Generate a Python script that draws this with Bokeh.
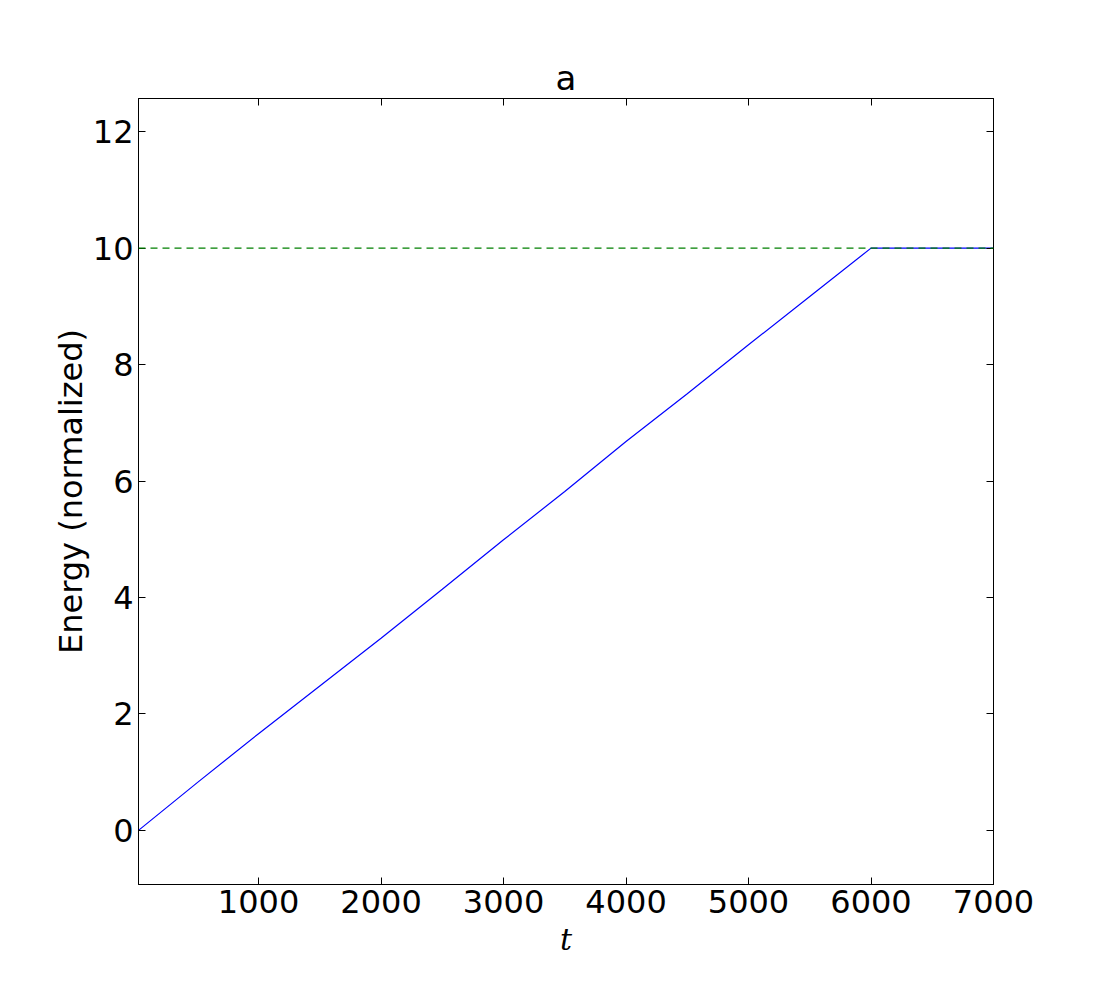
from bokeh.plotting import figure
from bokeh.models import Range1d, LinearAxis, Span, FixedTicker
from bokeh.embed import file_html
from bokeh.resources import INLINE

# Data
t_values = [20, 500, 1000, 1500, 2000, 2500, 3000, 3500, 4000, 4500, 5000, 5500, 6000, 6500, 7000]
energy_values = [0.0, 0.82, 1.66, 2.48, 3.30, 4.14, 4.99, 5.82, 6.68, 7.50, 8.34, 9.17, 10.0, 10.0, 10.0]
target_level = [10.0]
x_ticks = [1000, 2000, 3000, 4000, 5000, 6000, 7000]
y_ticks = [0, 2, 4, 6, 8, 10, 12]

FONT = "DejaVu Sans"
FS = "32px"

p = figure(
    width=1095, height=975,
    output_backend="svg", toolbar_location=None,
    x_range=Range1d(20, 7000), y_range=Range1d(-0.93, 12.57),
    min_border_left=138, min_border_right=102, min_border_top=98, min_border_bottom=91,
    title="a",
)
p.frame_width = 855
p.frame_height = 786

p.title.align = "center"
p.title.text_font = FONT
p.title.text_font_size = "34px"
p.title.text_font_style = "normal"
p.title.text_color = "black"
p.title.standoff = 2

p.grid.visible = False
p.outline_line_color = "black"
p.outline_line_width = 1
p.background_fill_color = "white"
p.border_fill_color = "white"

xa = p.xaxis[0]
ya = p.yaxis[0]
xa.ticker = FixedTicker(ticks=x_ticks)
ya.ticker = FixedTicker(ticks=y_ticks)
for ax in (xa, ya):
    ax.major_tick_in = 7
    ax.major_tick_out = 0
    ax.minor_tick_line_color = None
    ax.axis_line_color = "black"
    ax.major_tick_line_color = "black"
    ax.major_label_text_font = FONT
    ax.major_label_text_font_size = FS
    ax.major_label_text_color = "black"
    ax.axis_label_text_font_style = "normal"
    ax.axis_label_text_color = "black"

xa.major_label_standoff = 5
ya.major_label_standoff = 5
xa.axis_label = "t"
xa.axis_label_text_font = "DejaVu Serif"
xa.axis_label_text_font_style = "italic"
xa.axis_label_text_font_size = "30px"
xa.axis_label_standoff = 6
ya.axis_label = "Energy (normalized)"
ya.axis_label_text_font = FONT
ya.axis_label_text_font_size = FS
ya.axis_label_standoff = 0

top = LinearAxis(ticker=FixedTicker(ticks=x_ticks), major_label_text_font_size="0px",
                 major_tick_in=7, major_tick_out=0, minor_tick_line_color=None,
                 axis_line_color="black", major_label_standoff=0)
right = LinearAxis(ticker=FixedTicker(ticks=y_ticks), major_label_text_font_size="0px",
                   major_tick_in=7, major_tick_out=0, minor_tick_line_color=None,
                   axis_line_color="black", major_label_standoff=0)
top.major_label_text_color = None
right.major_label_text_color = None
p.add_layout(top, "above")
p.add_layout(right, "right")

p.line(t_values, energy_values, line_color="#0000ff", line_width=1.2)
p.add_layout(Span(location=target_level[0], dimension="width",
                  line_color="#008000", line_width=1.2, line_dash="7 5"))

html = file_html(p, INLINE)
open("out.html", "w").write(html)
